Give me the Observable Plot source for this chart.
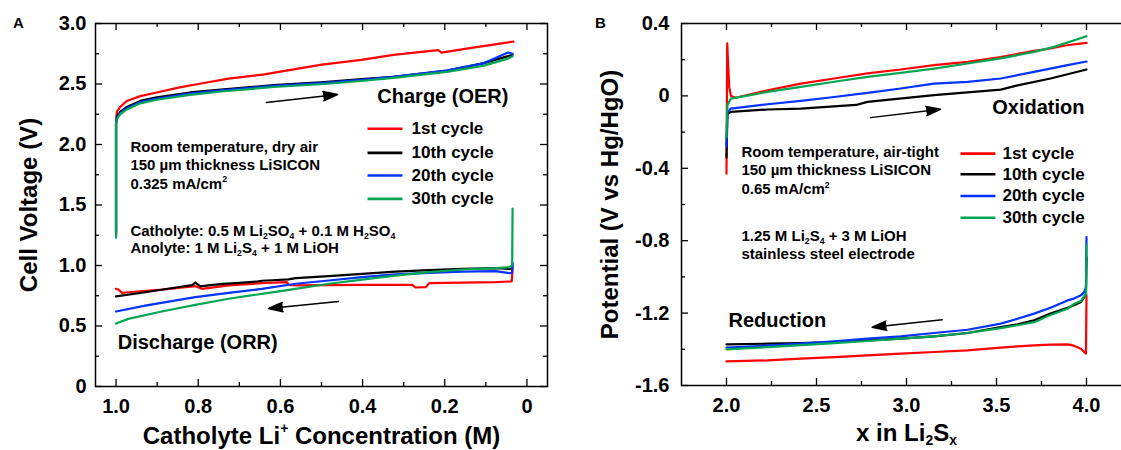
<!DOCTYPE html>
<html><head><meta charset="utf-8">
<script src="https://cdn.jsdelivr.net/npm/d3@7"></script>
<script src="https://cdn.jsdelivr.net/npm/@observablehq/plot@0.6"></script>
<style>
html,body{margin:0;padding:0;background:#fff;overflow:hidden}
#wrap{position:relative;width:1121px;height:450px;overflow:hidden;background:#fff}
#pa{position:absolute;left:0;top:0;width:560px;height:450px}
#pb{position:absolute;left:560px;top:0;width:580px;height:450px}
</style></head>
<body><div id="wrap"><div id="pa"></div><div id="pb"></div></div>
<script>
// ---------- series ----------
const cycles = ["1st cycle", "10th cycle", "20th cycle", "30th cycle"];
const cycleColors = ["#ff0000", "#000000", "#0033ff", "#00a651"];

// Panel A: charge (OER), x = catholyte Li+ concentration (M), v = cell voltage (V)
const aChargeRedX   = [1.0, 1.0, 0.998, 0.99, 0.974, 0.941, 0.901, 0.848, 0.80, 0.726, 0.639, 0.586, 0.499, 0.403, 0.325, 0.216, 0.208, 0.151, 0.033];
const aChargeRedV   = [1.26, 2.18, 2.27, 2.31, 2.36, 2.40, 2.43, 2.47, 2.50, 2.545, 2.58, 2.61, 2.66, 2.70, 2.74, 2.78, 2.76, 2.79, 2.85];
const aChargeX      = [1.0, 1.0, 0.998, 0.990, 0.974, 0.941, 0.901, 0.820, 0.738, 0.616, 0.494, 0.403, 0.325, 0.195, 0.107, 0.046, 0.035];
const aChargeBlackV = [1.25, 2.17, 2.23, 2.27, 2.31, 2.36, 2.39, 2.43, 2.455, 2.49, 2.515, 2.54, 2.56, 2.61, 2.67, 2.73, 2.74];
const aChargeBlueV  = [1.28, 2.17, 2.22, 2.26, 2.30, 2.35, 2.38, 2.42, 2.45, 2.485, 2.51, 2.535, 2.56, 2.61, 2.67, 2.76, 2.75];
const aChargeGreenV = [1.23, 2.17, 2.21, 2.25, 2.29, 2.34, 2.37, 2.41, 2.44, 2.475, 2.50, 2.525, 2.55, 2.60, 2.65, 2.71, 2.73];

// Panel A: discharge (ORR)
const aDisRedX   = [0.035, 0.037, 0.039, 0.076, 0.238, 0.246, 0.271, 0.279, 0.401, 0.563, 0.580, 0.584, 0.645, 0.726, 0.791, 0.807, 0.889, 0.970, 0.986, 0.994, 1.0];
const aDisRedV   = [0.97, 0.87, 0.868, 0.862, 0.854, 0.821, 0.818, 0.840, 0.840, 0.835, 0.840, 0.862, 0.854, 0.835, 0.807, 0.829, 0.80, 0.779, 0.774, 0.802, 0.807];
const aDisBlackX = [0.035, 0.036, 0.043, 0.076, 0.157, 0.238, 0.320, 0.401, 0.482, 0.563, 0.58, 0.62, 0.645, 0.66, 0.70, 0.74, 0.77, 0.795, 0.807, 0.815, 0.85, 0.929, 1.0];
const aDisBlackV = [1.00, 0.975, 0.972, 0.978, 0.972, 0.961, 0.950, 0.931, 0.912, 0.895, 0.885, 0.878, 0.874, 0.866, 0.857, 0.848, 0.838, 0.828, 0.858, 0.838, 0.82, 0.779, 0.745];
const aDisBlueX  = [0.035, 0.036, 0.043, 0.076, 0.157, 0.238, 0.320, 0.401, 0.482, 0.563, 0.645, 0.726, 0.807, 0.929, 1.0];
const aDisBlueV  = [1.02, 0.94, 0.937, 0.953, 0.950, 0.939, 0.926, 0.904, 0.876, 0.849, 0.807, 0.774, 0.738, 0.669, 0.620];
const aDisGreenX = [0.035, 0.036, 0.043, 0.076, 0.157, 0.238, 0.320, 0.401, 0.482, 0.563, 0.645, 0.726, 0.807, 0.889, 0.970, 1.0];
const aDisGreenV = [1.47, 1.00, 0.986, 0.978, 0.967, 0.945, 0.917, 0.884, 0.849, 0.807, 0.766, 0.725, 0.675, 0.620, 0.559, 0.52];

// Panel B: oxidation, x in Li2Sx, v = potential (V vs Hg/HgO)
const bOxRedX   = [2.0, 2.004, 2.008, 2.015, 2.025, 2.05, 2.228, 2.413, 2.598, 2.783, 2.968, 3.153, 3.339, 3.524, 3.709, 3.80, 3.89, 4.0];
const bOxRedV   = [-0.43, 0.29, 0.20, 0.05, 0.0, -0.01, 0.031, 0.068, 0.096, 0.124, 0.146, 0.170, 0.188, 0.215, 0.249, 0.262, 0.28, 0.293];
const bOxBlackX = [2.0, 2.005, 2.024, 2.228, 2.413, 2.72, 2.783, 3.153, 3.524, 3.617, 3.80, 4.0];
const bOxBlackV = [-0.34, -0.10, -0.088, -0.075, -0.07, -0.05, -0.033, 0.004, 0.035, 0.058, 0.096, 0.146];
const bOxBlueX  = [2.0, 2.005, 2.024, 2.228, 2.413, 2.598, 2.783, 2.968, 3.153, 3.339, 3.524, 3.709, 3.895, 4.0];
const bOxBlueV  = [-0.28, -0.09, -0.07, -0.046, -0.028, -0.006, 0.017, 0.041, 0.068, 0.078, 0.096, 0.133, 0.17, 0.19];
const bOxGreenX = [2.0, 2.005, 2.024, 2.228, 2.413, 2.598, 2.783, 2.968, 3.153, 3.339, 3.524, 3.709, 3.82, 4.0];
const bOxGreenV = [-0.23, -0.05, -0.015, 0.022, 0.05, 0.078, 0.105, 0.127, 0.151, 0.179, 0.207, 0.243, 0.271, 0.33];

// Panel B: reduction
const bRedX      = [4.0, 3.997, 3.987, 3.969, 3.93, 3.895, 3.80, 3.709, 3.617, 3.524, 3.339, 3.153, 2.968, 2.783, 2.598, 2.413, 2.228, 2.0];
const bRedRedV   = [-1.10, -1.424, -1.415, -1.397, -1.38, -1.373, -1.374, -1.378, -1.384, -1.391, -1.406, -1.415, -1.424, -1.434, -1.443, -1.452, -1.461, -1.467];
const bRedBlackV = [-0.89, -1.093, -1.112, -1.139, -1.157, -1.170, -1.203, -1.240, -1.262, -1.277, -1.310, -1.329, -1.341, -1.351, -1.360, -1.366, -1.369, -1.373];
const bRedBlueV  = [-0.78, -1.056, -1.084, -1.102, -1.12, -1.13, -1.17, -1.203, -1.231, -1.258, -1.292, -1.310, -1.329, -1.341, -1.356, -1.369, -1.380, -1.391];
const bRedGreenV = [-0.825, -1.102, -1.107, -1.133, -1.15, -1.176, -1.21, -1.25, -1.267, -1.283, -1.31, -1.329, -1.341, -1.354, -1.366, -1.377, -1.388, -1.400];

// ---------- ticks ----------
const aXTicks = [1.0, 0.8, 0.6, 0.4, 0.2, 0];
const aXTickLabels = ["1.0", "0.8", "0.6", "0.4", "0.2", "0"];
const aXMinor = [0.9, 0.7, 0.5, 0.3, 0.1];
const aYTicks = [0, 0.5, 1.0, 1.5, 2.0, 2.5, 3.0];
const aYTickLabels = ["0", "0.5", "1.0", "1.5", "2.0", "2.5", "3.0"];
const aYMinor = [0.25, 0.75, 1.25, 1.75, 2.25, 2.75];

const bXTicks = [2.0, 2.5, 3.0, 3.5, 4.0];
const bXTickLabels = ["2.0", "2.5", "3.0", "3.5", "4.0"];
const bXMinor = [2.25, 2.75, 3.25, 3.75];
const bYTicks = [-1.6, -1.2, -0.8, -0.4, 0, 0.4];
const bYTickLabels = ["-1.6", "-1.2", "-0.8", "-0.4", "0", "0.4"];
const bYMinor = [-1.4, -1.0, -0.6, -0.2, 0.2];

// ---------- texts ----------
const aXTitle = "Catholyte Li^{+} Concentration (M)";
const aYTitle = "Cell Voltage (V)";
const bXTitle = "x in Li_{2}S_{x}";
const bYTitle = "Potential (V vs Hg/HgO)";
const aNotes = ["Room temperature, dry air", "150 µm thickness LiSICON", "0.325 mA/cm^{2}"];
const aSolutions = ["Catholyte: 0.5 M Li_{2}SO_{4} + 0.1 M H_{2}SO_{4}", "Anolyte: 1 M Li_{2}S_{4} + 1 M LiOH"];
const bNotes = ["Room temperature, air-tight", "150 µm thickness LiSICON", "0.65 mA/cm^{2}"];
const bSolutions = ["1.25 M Li_{2}S_{4} + 3 M LiOH", "stainless steel electrode"];

// ---------- build tables ----------
function series(cycle, part, xs, vs) {
  return xs.map((x, i) => ({cycle, key: cycle + "|" + part, x, v: vs[i]}));
}
const dataA = [
  ...series(cycles[0], "c", aChargeRedX, aChargeRedV), ...series(cycles[0], "d", aDisRedX, aDisRedV),
  ...series(cycles[1], "c", aChargeX, aChargeBlackV), ...series(cycles[1], "d", aDisBlackX, aDisBlackV),
  ...series(cycles[2], "c", aChargeX, aChargeBlueV), ...series(cycles[2], "d", aDisBlueX, aDisBlueV),
  ...series(cycles[3], "c", aChargeX, aChargeGreenV), ...series(cycles[3], "d", aDisGreenX, aDisGreenV)
];
const dataB = [
  ...series(cycles[0], "o", bOxRedX, bOxRedV), ...series(cycles[0], "r", bRedX, bRedRedV),
  ...series(cycles[1], "o", bOxBlackX, bOxBlackV), ...series(cycles[1], "r", bRedX, bRedBlackV),
  ...series(cycles[2], "o", bOxBlueX, bOxBlueV), ...series(cycles[2], "r", bRedX, bRedBlueV),
  ...series(cycles[3], "o", bOxGreenX, bOxGreenV), ...series(cycles[3], "r", bRedX, bRedGreenV)
];

const FONT = "'Liberation Sans', Arial, Helvetica, sans-serif";

function frameTicks(w, h, xMaj, xMin, yMaj, yMin) {
  const M = 7, m = 4, sw = 1.3;
  return [
    Plot.tickY(yMaj, {y: d => d, insetRight: w - M, strokeWidth: sw}),
    Plot.tickY(yMaj, {y: d => d, insetLeft: w - M, strokeWidth: sw}),
    Plot.tickY(yMin, {y: d => d, insetRight: w - m, strokeWidth: sw}),
    Plot.tickY(yMin, {y: d => d, insetLeft: w - m, strokeWidth: sw}),
    Plot.tickX(xMaj, {x: d => d, insetTop: h - M, strokeWidth: sw}),
    Plot.tickX(xMaj, {x: d => d, insetBottom: h - M, strokeWidth: sw}),
    Plot.tickX(xMin, {x: d => d, insetTop: h - m, strokeWidth: sw}),
    Plot.tickX(xMin, {x: d => d, insetBottom: h - m, strokeWidth: sw})
  ];
}

function legendMarks(x1, x2, xt, ys) {
  const rows = cycles.map((c, i) => ({cycle: c, y: ys[i]}));
  return [
    Plot.link(rows, {x1: () => x1, x2: () => x2, y1: "y", y2: "y", stroke: "cycle", strokeWidth: 2.6}),
    Plot.text(rows, {x: () => xt, y: "y", text: "cycle", textAnchor: "start", fontSize: 17})
  ];
}

function noteMarks(x, ys, lines, fs) {
  return Plot.text(lines.map((t, i) => ({t, x, y: ys[i]})), {x: "x", y: "y", text: "t", textAnchor: "start", fontSize: fs});
}

// ---------- panel A ----------
const wA = 560, mlA = 95, mrA = 13, mtA = 23, mbA = 64;
const plotA = Plot.plot({
  width: wA, height: 450, marginLeft: mlA, marginRight: mrA, marginTop: mtA, marginBottom: mbA,
  x: {domain: [1.05, -0.05]},
  y: {domain: [0, 3]},
  color: {domain: cycles, range: cycleColors},
  style: {fontFamily: FONT, fontWeight: "bold", color: "#000", background: "#fff", maxWidth: "none"},
  marks: [
    Plot.line(dataA, {x: "x", y: "v", z: "key", stroke: "cycle", strokeWidth: 2.2}),
    Plot.frame({stroke: "#000", strokeWidth: 1.5}),
    ...frameTicks(wA - mlA - mrA, 450 - mtA - mbA, aXTicks, aXMinor, aYTicks, aYMinor),
    Plot.axisX(aXTicks, {tickSize: 0, tickPadding: 12, fontSize: 20, label: null, tickFormat: d => aXTickLabels[aXTicks.indexOf(d)]}),
    Plot.axisY(aYTicks, {tickSize: 0, tickPadding: 9, fontSize: 20, label: null, tickFormat: d => aYTickLabels[aYTicks.indexOf(d)]}),
    Plot.text([aXTitle], {frameAnchor: "bottom", dy: 57, lineAnchor: "bottom", textAnchor: "middle", fontSize: 24}),
    Plot.text([aYTitle], {frameAnchor: "left", dx: -59, rotate: -90, lineAnchor: "bottom", textAnchor: "middle", fontSize: 24}),
    Plot.text(["A"], {frameAnchor: "top-left", dx: -77, dy: -6, textAnchor: "middle", fontSize: 15}),
    Plot.text([{t: "Charge (OER)", x: 0.045, y: 2.397}], {x: "x", y: "y", text: "t", textAnchor: "end", fontSize: 20}),
    Plot.text([{t: "Discharge (ORR)", x: 0.996, y: 0.366}], {x: "x", y: "y", text: "t", textAnchor: "start", fontSize: 20}),
    noteMarks(0.965, [1.978, 1.826, 1.675], aNotes, 15),
    noteMarks(0.965, [1.280, 1.140], aSolutions, 15),
    ...legendMarks(0.388, 0.303, 0.281, [2.130, 1.931, 1.744, 1.551]),
    Plot.arrow([{x1: 0.634, y1: 2.347, x2: 0.461, y2: 2.413}, {x1: 0.459, y1: 0.702, x2: 0.629, y2: 0.645}],
      {x1: "x1", y1: "y1", x2: "x2", y2: "y2", stroke: "#000", fill: "#000", strokeWidth: 1.5, headLength: 15, headAngle: 36})
  ]
});

// ---------- panel B ----------
const wB = 580, mlB = 121, mrB = 9, mtB = 23, mbB = 65;
const plotB = Plot.plot({
  width: wB, height: 450, marginLeft: mlB, marginRight: mrB, marginTop: mtB, marginBottom: mbB,
  x: {domain: [1.75, 4.25]},
  y: {domain: [-1.6, 0.4]},
  color: {domain: cycles, range: cycleColors},
  style: {fontFamily: FONT, fontWeight: "bold", color: "#000", background: "#fff", maxWidth: "none"},
  marks: [
    Plot.line(dataB, {x: "x", y: "v", z: "key", stroke: "cycle", strokeWidth: 2.2}),
    Plot.frame({stroke: "#000", strokeWidth: 1.5}),
    ...frameTicks(wB - mlB - mrB, 450 - mtB - mbB, bXTicks, bXMinor, bYTicks, bYMinor),
    Plot.axisX(bXTicks, {tickSize: 0, tickPadding: 12, fontSize: 20, label: null, tickFormat: d => bXTickLabels[bXTicks.indexOf(d)]}),
    Plot.axisY(bYTicks, {tickSize: 0, tickPadding: 12, fontSize: 20, label: null, tickFormat: d => bYTickLabels[bYTicks.indexOf(d)]}),
    Plot.text([bXTitle], {frameAnchor: "bottom", dy: 55, lineAnchor: "bottom", textAnchor: "middle", fontSize: 24}),
    Plot.text([bYTitle], {frameAnchor: "left", dx: -64, rotate: -90, lineAnchor: "bottom", textAnchor: "middle", fontSize: 24}),
    Plot.text(["B"], {frameAnchor: "top-left", dx: -81, dy: -6, textAnchor: "middle", fontSize: 15}),
    Plot.text([{t: "Oxidation", x: 3.989, y: -0.063}], {x: "x", y: "y", text: "t", textAnchor: "end", fontSize: 20}),
    Plot.text([{t: "Reduction", x: 2.011, y: -1.241}], {x: "x", y: "y", text: "t", textAnchor: "start", fontSize: 20}),
    noteMarks(2.083, [-0.31, -0.411, -0.518], bNotes, 15),
    noteMarks(2.083, [-0.775, -0.876], bSolutions, 15),
    ...legendMarks(3.30, 3.494, 3.533, [-0.319, -0.433, -0.553, -0.673]),
    Plot.arrow([{x1: 2.80, y1: -0.12, x2: 3.189, y2: -0.074}, {x1: 3.198, y1: -1.237, x2: 2.809, y2: -1.278}],
      {x1: "x1", y1: "y1", x2: "x2", y2: "y2", stroke: "#000", fill: "#000", strokeWidth: 1.5, headLength: 15, headAngle: 36})
  ]
});

document.getElementById("pa").appendChild(plotA);
document.getElementById("pb").appendChild(plotB);

// sub/superscripts as real tspans
function richify(root) {
  root.querySelectorAll("text").forEach(el => {
    const src = el.textContent;
    if (!/[_^]\{/.test(src)) return;
    const fs = parseFloat(getComputedStyle(el).fontSize) || 15;
    while (el.firstChild) el.removeChild(el.firstChild);
    const re = /([_^])\{([^}]*)\}/g;
    let last = 0, m, shift = 0;
    const add = (txt, kind) => {
      if (!txt) return;
      const ts = document.createElementNS("http://www.w3.org/2000/svg", "tspan");
      const target = kind === "sub" ? 0.2 * fs : kind === "sup" ? -0.42 * fs : 0;
      const dy = target - shift;
      if (dy) ts.setAttribute("dy", dy.toFixed(2));
      if (kind) ts.setAttribute("font-size", (0.58 * fs).toFixed(1));
      shift = target;
      ts.textContent = txt;
      el.appendChild(ts);
    };
    while ((m = re.exec(src))) {
      add(src.slice(last, m.index), null);
      add(m[2], m[1] === "_" ? "sub" : "sup");
      last = re.lastIndex;
    }
    add(src.slice(last), null);
  });
}
richify(plotA);
richify(plotB);
</script>
</body></html>
